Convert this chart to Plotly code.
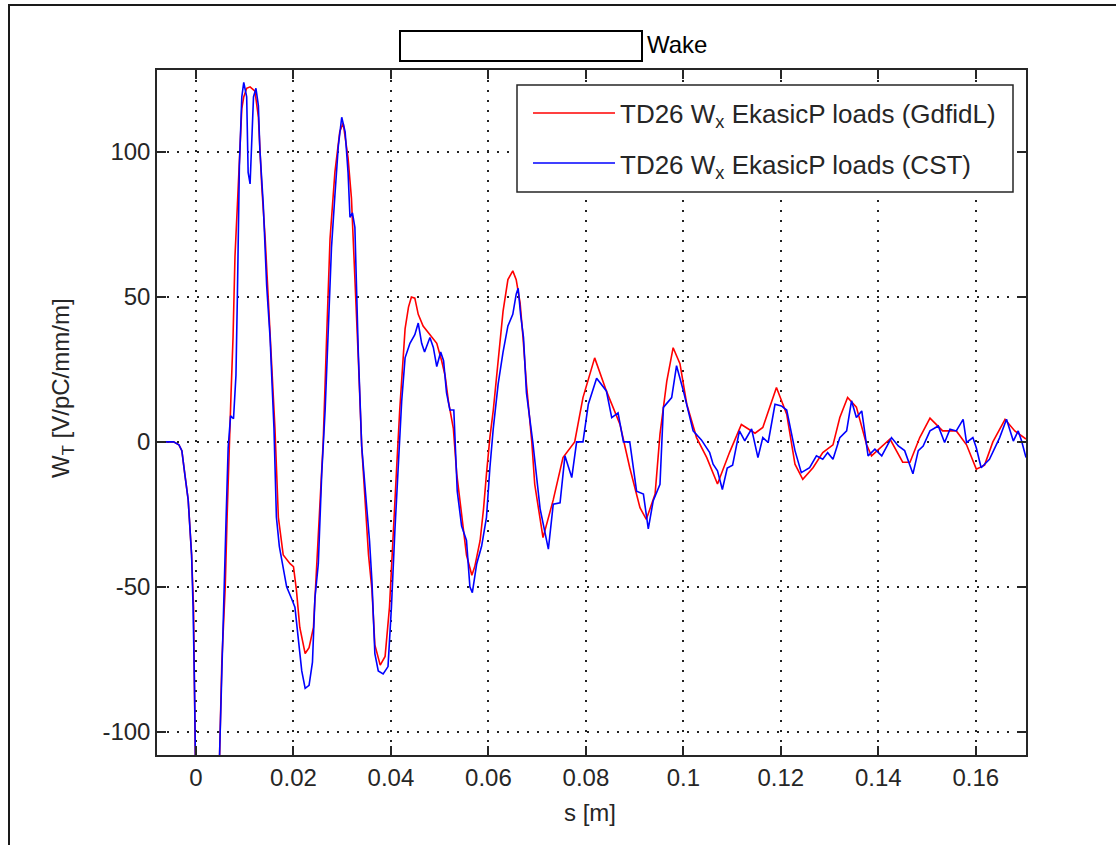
import plotly.graph_objects as go

# ---------------- data ----------------
s_gdfidl = [-0.008, -0.0046, -0.0035, -0.0029, -0.0023, -0.0016, -0.0009, -0.0005, -0.0003, 0.0, 0.0023, 0.0046,
            0.0053, 0.006, 0.0064, 0.0068, 0.0072, 0.0076, 0.008, 0.0085, 0.009, 0.0094, 0.0098, 0.0104, 0.0111,
            0.0121, 0.0128, 0.0135, 0.0142, 0.0152, 0.0162, 0.0169, 0.0179, 0.0193, 0.02, 0.0206, 0.0213, 0.0224,
            0.0232, 0.0241, 0.0248, 0.0254, 0.0261, 0.0268, 0.0275, 0.0285, 0.0295, 0.0302, 0.0312, 0.0319, 0.0326,
            0.0333, 0.034, 0.0347, 0.0354, 0.0361, 0.0367, 0.0378, 0.0388, 0.0397, 0.0405, 0.0412, 0.0418, 0.0424,
            0.0429, 0.0436, 0.0442, 0.0449, 0.0456, 0.0466, 0.048, 0.0494, 0.0504, 0.0511, 0.0518, 0.0528, 0.0535,
            0.0545, 0.0555, 0.0566, 0.0572, 0.0583, 0.059, 0.0596, 0.0603, 0.061, 0.062, 0.063, 0.064, 0.065,
            0.0657, 0.0665, 0.0671, 0.0678, 0.0689, 0.0695, 0.0712, 0.0733, 0.0753, 0.0777, 0.0794, 0.0818, 0.0842,
            0.087, 0.089, 0.0911, 0.0924, 0.0942, 0.0952, 0.0966, 0.0979, 0.0993, 0.1007, 0.1027, 0.1048, 0.107,
            0.1095, 0.1119, 0.1147, 0.1163, 0.1191, 0.1212, 0.1229, 0.1245, 0.1266, 0.1286, 0.1307, 0.1321, 0.1337,
            0.1355, 0.1376, 0.1386, 0.1424, 0.145, 0.1465, 0.1485, 0.1506, 0.1532, 0.156, 0.1581, 0.1601, 0.1618,
            0.1635, 0.166, 0.168, 0.1703]
w_gdfidl = [0, 0, -1, -3, -11, -20, -39, -57, -87, -125, -160, -125,
            -76, -50, -25, -1.5, 17, 36, 64, 82, 100, 115, 119, 122, 122.5,
            121, 112, 88, 70, 36, 4.7, -26, -39, -42, -43, -51, -64, -73,
            -71, -64, -42, -26, 0, 36, 70, 93, 107, 110, 98, 84, 59,
            29, -1.5, -20, -39, -51, -70, -77, -74, -57, -28, -8, 11, 28,
            39, 46.5, 50, 49.6, 44, 40, 37, 34, 28, 23, 14, 4.7, -11,
            -26, -39, -46, -43, -34, -23, -11, 1.5, 11, 29, 45, 56, 59,
            56, 48, 36, 20, 0, -14.6, -33, -20, -5.4, 0, 15.3, 29, 17.6,
            6, -8.9, -22.7, -26.7, -18, 2.7, 21, 32.5, 27, 13, 1.5, -5.4, -14.5,
            -3.5, 6, 3, 5, 18.8, 9.6, -7.7, -12.9, -8.9, -3.7, -1, 8.4, 15.3,
            12, -1, -4.8, 1, -7, -7, 1.5, 8.2, 3.8, 3.8, -1, -9.4, -8,
            0, 7.8, 3.8, 1]

s_cst = [-0.008, -0.0046, -0.0035, -0.0029, -0.0023, -0.0016, -0.0009, -0.0006, -0.0003, 0.0, 0.0023, 0.0046,
         0.0049, 0.0056, 0.0062, 0.0066, 0.0071, 0.0077, 0.0082, 0.0085, 0.0089, 0.0094, 0.0098, 0.0104, 0.0107,
         0.0111, 0.0114, 0.0118, 0.0123, 0.0128, 0.0131, 0.0138, 0.0145, 0.0152, 0.016, 0.0165, 0.0171, 0.0178,
         0.0186, 0.0196, 0.0203, 0.021, 0.0217, 0.0224, 0.0232, 0.0239, 0.0244, 0.0251, 0.0258, 0.0265, 0.0271,
         0.0278, 0.0285, 0.0292, 0.0299, 0.0306, 0.0312, 0.0316, 0.0321, 0.0326, 0.0333, 0.034, 0.0349, 0.0356,
         0.0361, 0.0367, 0.0374, 0.0384, 0.0394, 0.0401, 0.0408, 0.0415, 0.0422, 0.0429, 0.0439, 0.0449, 0.0456,
         0.0463, 0.0469, 0.048, 0.0487, 0.0494, 0.0502, 0.0508, 0.0514, 0.0521, 0.0529, 0.0536, 0.0545, 0.0555,
         0.0562, 0.0567, 0.0576, 0.0586, 0.0596, 0.0603, 0.061, 0.062, 0.063, 0.064, 0.065, 0.0657, 0.0661,
         0.0666, 0.0672, 0.0678, 0.0691, 0.0706, 0.0723, 0.0733, 0.0747, 0.0757, 0.0771, 0.0781, 0.0794, 0.0805,
         0.0822, 0.0842, 0.0853, 0.0866, 0.0877, 0.089, 0.0904, 0.0918, 0.0928, 0.0938, 0.0952, 0.0959, 0.0976,
         0.0986, 0.1, 0.102, 0.1037, 0.1054, 0.1061, 0.107, 0.108, 0.109, 0.1101, 0.1115, 0.1126, 0.114,
         0.1153, 0.1163, 0.1174, 0.1188, 0.1201, 0.1212, 0.1229, 0.1242, 0.1259, 0.1273, 0.1286, 0.1296, 0.1307,
         0.1321, 0.1335, 0.1345, 0.1355, 0.1366, 0.1379, 0.1393, 0.1407, 0.1427, 0.1441, 0.1454, 0.1461, 0.1471,
         0.1482, 0.1492, 0.1506, 0.1523, 0.1536, 0.1547, 0.156, 0.1574, 0.1581, 0.1594, 0.1601, 0.1611, 0.1628,
         0.1649, 0.1663, 0.1677, 0.1687, 0.1694, 0.1703]
w_cst = [0, 0, -1, -3, -11, -20, -39, -57, -85, -125, -160, -125,
         -104, -57, -25, -2, 9, 8, 23, 51, 95, 119, 124, 119, 93,
         89, 103, 119, 122, 116, 101, 82, 54, 36, 4.7, -26, -36, -42,
         -50, -54, -57, -68, -79, -85, -84, -76, -54, -42, -11, 11, 40,
         67, 85, 102, 112, 107, 93, 77.5, 79, 74, 31, -1.5, -20, -34,
         -48, -73, -79, -80, -77.5, -57, -31, -8, 14, 29, 34, 37, 41,
         34, 31, 36, 32.6, 26, 31, 28, 17, 11, 11, -17, -29, -34,
         -50, -52, -42, -36, -26, -9, 4.7, 20, 31, 40, 44, 51, 53,
         44, 36, 17, 0, -23, -37, -21.5, -21, -4.8, -12.3, 0, 0, 13,
         22, 17.6, 8.4, 10, 0, 0, -17, -18, -30, -20.4, -14.6, 11.9, 15.3,
         26.3, 17.6, 3.8, 0.7, -3.7, -7.7, -10, -16.4, -9, -8, 3.8, 0.4, 4.5,
         -5.4, 1.5, -0.2, 13, 12.4, 11, -3, -10.6, -8.9, -4.8, -6, -3.7, -6,
         1.5, 3.8, 14.2, 8.4, 10.7, -4.8, -2.5, -4.8, 1.5, -1.4, -3, -6.5, -11,
         -3, -1.4, 3.8, 5.5, -0.2, 4.4, 3.8, 7.8, -0.2, 1.5, -2, -8.9, -6,
         1.5, 7.8, 0.3, 3.8, 0.3, -5.4]

x_ticks = [0, 0.02, 0.04, 0.06, 0.08, 0.1, 0.12, 0.14, 0.16]
x_tick_labels = ["0", "0.02", "0.04", "0.06", "0.08", "0.1", "0.12", "0.14", "0.16"]
y_ticks = [-100, -50, 0, 50, 100]
y_tick_labels = ["-100", "-50", "0", "50", "100"]

name_gdfidl = "TD26 W<sub>x</sub> EkasicP loads (GdfidL)"
name_cst = "TD26 W<sub>x</sub> EkasicP loads (CST)"

assert len(s_gdfidl) == len(w_gdfidl), (len(s_gdfidl), len(w_gdfidl))
assert len(s_cst) == len(w_cst), (len(s_cst), len(w_cst))

# ---------------- figure ----------------
FONT = "Arial, 'Liberation Sans', Helvetica, sans-serif"
AX = "#262626"
RED = "#ff0000"
BLUE = "#0000ff"

fig = go.Figure()
fig.add_trace(go.Scatter(x=s_gdfidl, y=w_gdfidl, mode="lines", name=name_gdfidl,
                         line=dict(color=RED, width=1.6)))
fig.add_trace(go.Scatter(x=s_cst, y=w_cst, mode="lines", name=name_cst,
                         line=dict(color=BLUE, width=1.6)))

axis_common = dict(showline=True, linecolor=AX, linewidth=1.5, mirror="ticks",
                   ticks="inside", ticklen=9, tickwidth=1.5, tickcolor=AX,
                   showgrid=True, gridcolor="#222222", gridwidth=1.5, griddash="2px,8px",
                   zeroline=False, tickfont=dict(family=FONT, size=24, color=AX))

fig.update_xaxes(range=[-0.008, 0.1703], tickmode="array", tickvals=x_ticks,
                 ticktext=x_tick_labels, **axis_common)
fig.update_yaxes(range=[-108, 128.3], tickmode="array", tickvals=y_ticks,
                 ticktext=y_tick_labels, **axis_common)

W, H = 1116, 845
L, R, T, B = 157, 90, 70, 90
PW, PH = W - L - R, H - T - B


def px(xp):
    return (xp - L) / PW


def py(yp):
    return (H - B - yp) / PH


shapes = [
    # outer figure frame (top and left edges visible)
    dict(type="rect", xref="paper", yref="paper", x0=px(9), x1=px(1140), y0=py(870), y1=py(5),
         line=dict(color="#1a1a1a", width=2), fillcolor="rgba(0,0,0,0)", layer="above"),
    # blank box in title
    dict(type="rect", xref="paper", yref="paper", x0=px(400), x1=px(642), y0=py(61), y1=py(31),
         line=dict(color="#000000", width=2), fillcolor="white", layer="above"),
    # legend box
    dict(type="rect", xref="paper", yref="paper", x0=px(517), x1=px(1013), y0=py(192), y1=py(85),
         line=dict(color=AX, width=1.5), fillcolor="white", layer="above"),
    dict(type="line", xref="paper", yref="paper", x0=px(533), x1=px(615), y0=py(113), y1=py(113),
         line=dict(color=RED, width=1.6), layer="above"),
    dict(type="line", xref="paper", yref="paper", x0=px(533), x1=px(615), y0=py(163), y1=py(163),
         line=dict(color=BLUE, width=1.6), layer="above"),
]

annotations = [
    dict(text="Wake", xref="paper", yref="paper", x=px(645), y=py(45), xanchor="left", yanchor="middle",
         showarrow=False, font=dict(family=FONT, size=24, color="#000000")),
    dict(text=name_gdfidl, xref="paper", yref="paper", x=px(618), y=py(116), xanchor="left",
         yanchor="middle", showarrow=False, font=dict(family=FONT, size=26, color=AX)),
    dict(text=name_cst, xref="paper", yref="paper", x=px(618), y=py(166), xanchor="left",
         yanchor="middle", showarrow=False, font=dict(family=FONT, size=26, color=AX)),
    dict(text="s [m]", xref="paper", yref="paper", x=px(590), y=py(812), xanchor="center",
         yanchor="middle", showarrow=False, font=dict(family=FONT, size=24, color=AX)),
    dict(text="W<sub>T</sub> [V/pC/mm/m]", xref="paper", yref="paper", x=px(62), y=py(388),
         xanchor="center", yanchor="middle", textangle=-90, showarrow=False,
         font=dict(family=FONT, size=24, color=AX)),
]

fig.update_layout(width=W, height=H, margin=dict(l=L, r=R, t=T, b=B, autoexpand=False),
                  paper_bgcolor="white", plot_bgcolor="white", showlegend=False,
                  shapes=shapes, annotations=annotations,
                  font=dict(family=FONT, size=24, color=AX))

fig.write_html("out.html")
